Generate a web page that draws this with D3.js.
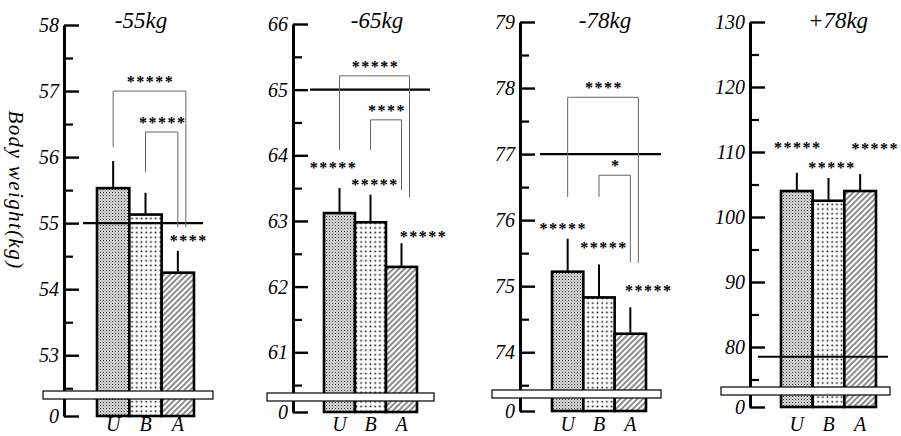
<!DOCTYPE html>
<html>
<head>
<meta charset="utf-8">
<script src="https://cdnjs.cloudflare.com/ajax/libs/d3/7.8.5/d3.min.js"></script>
<style>
  body { margin: 0; background: #fff; }
</style>
</head>
<body>
<svg id="chart" width="901" height="436"></svg>
<script>
// weight classes and groups
const classes = ["-55kg", "-65kg", "-78kg", "+78kg"];
const groups = ["U", "B", "A"];

// mean body weight (bar tops) and top of the error bars
const means = [
  [55.53, 55.13, 54.25],
  [63.12, 62.98, 62.30],
  [75.22, 74.83, 74.28],
  [104.0, 102.5, 104.0]
];
const errTops = [
  [55.94, 55.46, 54.58],
  [63.50, 63.40, 62.66],
  [75.72, 75.33, 74.68],
  [106.8, 106.0, 106.6]
];

// y axis: top value, lowest labelled value, step, value at the broken bottom (labelled 0)
const yTops = [58, 66, 79, 130];
const yLows = [53, 61, 74, 80];
const ySteps = [1, 1, 1, 10];
const yBases = [52.08, 60.09, 73.11, 70.77];

// weight class limit line
const limits = [55, 65, 77, 78.5];

// stars above each bar and the level they sit at
const barStars = [
  ["", "", "****"],
  ["*****", "*****", "*****"],
  ["*****", "*****", "*****"],
  ["*****", "*****", "*****"]
];
const barStarLevels = [
  [null, null, 54.77],
  [63.85, 63.59, 62.80],
  [75.91, 75.62, 74.97],
  [111.1, 108.0, 110.9]
];

// comparison brackets: from, to, top level, left leg end, right leg end, stars
const brackets = [
  [["U", "A", 57.00, 56.15, 54.94, "*****"], ["B", "A", 56.38, 55.77, 54.94, "*****"]],
  [["U", "A", 65.21, 64.08, 63.36, "*****"], ["B", "A", 64.54, 64.08, 63.47, "****"]],
  [["U", "A", 77.86, 76.35, 75.35, "****"], ["B", "A", 76.68, 76.35, 75.36, "*"]],
  []
];

// page layout of each panel (pixels)
const layout = [
  {axis: 64,  top: 25, bottom: 416, bars: [33, 130], limit: [19, 139], band: [-21, 149, 391], title: 77},
  {axis: 293, top: 24, bottom: 412, bars: [31, 124], limit: [17, 137], band: [-26, 141, 393], title: 84},
  {axis: 520, top: 22, bottom: 411, bars: [32, 126], limit: [20, 141], band: [-28, 141, 390], title: 85},
  {axis: 750, top: 22, bottom: 407, bars: [31, 126], limit: [8, 138],  band: [-29, 140, 387], title: 88}
];
const starShift = [[0, 0, 10], [-7, 3.5, 21], [-5.5, 4, 17.5], [0, 2.5, 14]];

const SERIF = "Liberation Serif";

let svg = d3.select("#chart");

// small helper like d3-selection-multi
d3.selection.prototype.attrs = function(obj) {
  for (let k in obj) this.attr(k, obj[k]);
  return this;
};

// serif italic text as in the printed figure
function serif(sel, size) {
  sel.attr("font-family", SERIF)
    .attr("font-style", "italic")
    .attr("font-size", size)
    .attr("fill", "#000")
    .style("font-family", `'${SERIF}'`)
    .style("font-style", "italic");
}

function stars(sel) {
  sel.attr("font-family", SERIF)
    .attr("font-weight", "bold")
    .attr("font-size", 16)
    .attr("letter-spacing", 1.5)
    .attr("text-anchor", "middle")
    .style("font-family", `'${SERIF}'`);
}

// fill patterns for U, B, A
function make_patterns() {
  let defs = svg.append("defs");

  let pu = defs.append("pattern")
    .attrs({id: "patU", patternUnits: "userSpaceOnUse", width: 3, height: 3});
  pu.append("rect").attrs({width: 3, height: 3, fill: "#d6d6d6"});
  pu.append("rect").attrs({width: 1, height: 1, fill: "#333"});
  pu.append("rect").attrs({x: 1.5, y: 1.5, width: 1, height: 1, fill: "#888"});

  let pb = defs.append("pattern")
    .attrs({id: "patB", patternUnits: "userSpaceOnUse", width: 4.7, height: 4.7});
  pb.append("rect").attrs({width: 4.7, height: 4.7, fill: "#fff"});
  pb.append("rect").attrs({x: 1.5, y: 1.5, width: 1.6, height: 1.6, fill: "#000"});

  let pa = defs.append("pattern")
    .attrs({id: "patA", patternUnits: "userSpaceOnUse", width: 4, height: 4, patternTransform: "rotate(45)"});
  pa.append("rect").attrs({width: 4, height: 4, fill: "#fff"});
  pa.append("line").attrs({x1: 1, y1: 0, x2: 1, y2: 4, stroke: "#000", "stroke-width": 0.9});
}

function draw_panel(i) {
  let L = layout[i];
  let g = svg.append("g").attr("transform", `translate(${L.axis},0)`);

  let y = d3.scaleLinear()
    .domain([yBases[i], yTops[i]])
    .range([L.bottom, L.top]);
  let x = d3.scaleBand()
    .domain(groups)
    .range(L.bars);

  let majors = d3.range(yLows[i], yTops[i] + ySteps[i] / 2, ySteps[i]);
  let minors = majors.map(v => v - ySteps[i] / 2);

  // bars
  g.append("g")
    .selectAll("rect")
    .data(groups).enter()
    .append("rect")
    .attrs({
      x: d => x(d),
      y: (d, j) => y(means[i][j]),
      width: x.bandwidth(),
      height: (d, j) => y(yBases[i]) - y(means[i][j]),
      fill: d => `url(#pat${d})`,
      stroke: "#000",
      "stroke-width": 2.6
    });

  // error bars
  g.append("g")
    .selectAll("line")
    .data(groups).enter()
    .append("line")
    .attrs({
      x1: d => x(d) + x.bandwidth() / 2,
      x2: d => x(d) + x.bandwidth() / 2,
      y1: (d, j) => y(means[i][j]) - 1,
      y2: (d, j) => y(errTops[i][j]),
      stroke: "#000",
      "stroke-width": 2
    });

  // axis with major and minor ticks
  let minor_axis = d3.axisLeft(y)
    .tickValues(minors)
    .tickSize(-9)
    .tickSizeOuter(0)
    .tickFormat("");
  g.append("g").call(minor_axis)
    .call(a => a.select(".domain").remove())
    .selectAll("line").attr("stroke-width", 2.2);

  let major_axis = d3.axisLeft(y)
    .tickValues([yBases[i]].concat(majors))
    .tickSize(-15)
    .tickSizeOuter(0)
    .tickPadding(5)
    .tickFormat(d => d === yBases[i] ? "0" : d);
  let ax = g.append("g").call(major_axis)
    .attr("font-family", SERIF);
  ax.select(".domain").attr("stroke-width", 3);
  ax.selectAll("line").attr("stroke-width", 2.4);
  ax.selectAll("text").call(serif, 20).attr("dy", "0.33em");

  // weight class limit
  g.append("line")
    .attrs({
      x1: L.limit[0], x2: L.limit[1],
      y1: y(limits[i]), y2: y(limits[i]),
      stroke: "#000", "stroke-width": 2.2
    });

  // comparison brackets
  let bk = g.append("g").selectAll("g")
    .data(brackets[i]).enter()
    .append("g");
  let leg = (d, k) => x(d[k]) + x.bandwidth() / 2 + (k === 1 && d[0] === "U" ? 8 : 0);
  bk.append("path")
    .attrs({
      d: d => `M${leg(d, 0)},${y(d[3])}V${y(d[2])}H${leg(d, 1)}V${y(d[4])}`,
      fill: "none",
      stroke: "#666",
      "stroke-width": 1
    });
  bk.append("text")
    .call(stars)
    .attrs({
      x: d => (leg(d, 0) + leg(d, 1)) / 2 + 1,
      y: d => y(d[2]) - 4
    })
    .text(d => d[5]);

  // stars above bars
  g.append("g")
    .selectAll("text")
    .data(groups.filter((d, j) => barStars[i][j] !== "")).enter()
    .append("text")
    .call(stars)
    .attrs({
      x: d => x(d) + x.bandwidth() / 2 + starShift[i][groups.indexOf(d)] + 1,
      y: d => y(barStarLevels[i][groups.indexOf(d)]) + 8
    })
    .text(d => barStars[i][groups.indexOf(d)]);

  // axis break band
  g.append("rect")
    .attrs({
      x: L.band[0], y: L.band[2],
      width: L.band[1] - L.band[0], height: 8,
      fill: "#fff", stroke: "#000", "stroke-width": 1.2
    });

  // group labels
  g.append("g")
    .selectAll("text")
    .data(groups).enter()
    .append("text")
    .attrs({
      x: d => x(d) + x.bandwidth() / 2,
      y: 431,
      "text-anchor": "middle"
    })
    .call(serif, 20)
    .text(d => d);

  // weight class title
  g.append("text")
    .attrs({x: L.title, y: 28, "text-anchor": "middle"})
    .call(serif, 23)
    .text(classes[i]);
}

make_patterns();
classes.forEach((c, i) => draw_panel(i));

// y axis title
svg.append("text")
  .attrs({
    transform: "translate(9,190) rotate(90)",
    "text-anchor": "middle"
  })
  .call(serif, 21)
  .attr("letter-spacing", 1.4)
  .text("Body weight(kg)");
</script>
</body>
</html>
